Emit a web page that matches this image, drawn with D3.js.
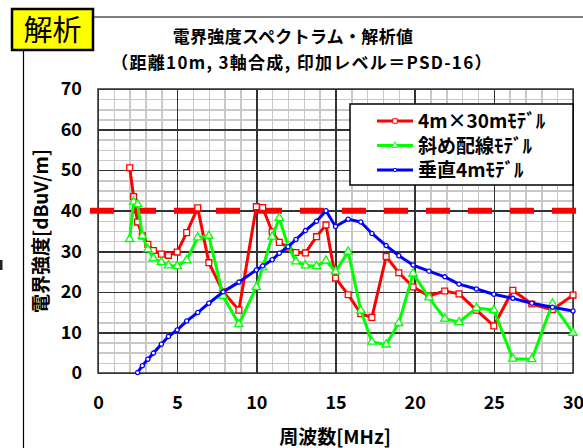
<!DOCTYPE html>
<html>
<head>
<meta charset="UTF-8">
<title>電界強度スペクトラム</title>
<script src="https://cdn.jsdelivr.net/npm/d3@7"></script>
<style>
  body { margin: 0; background: #fff; }
  text { font-family: "Noto Sans CJK JP", sans-serif; }
  .grid line { shape-rendering: crispEdges; }
  .grid path { display: none; }
  .lbl path, .lbl line { display: none; }
  .lbl text { font-size: 18px; font-weight: bold; fill: #000; }
</style>
</head>
<body>
<script>
// frequency points [MHz]
var freqs = [2.0, 2.25, 2.5, 2.8, 3.15, 3.5, 4.0, 4.45, 5.0, 5.6, 6.3, 7.0, 7.9, 8.9,
             10.0, 10.4, 11.0, 11.45, 12.0, 12.5, 13.1, 13.8, 14.4, 15.0, 15.8, 16.6,
             17.3, 18.2, 19.0, 19.9, 20.9, 21.9, 22.8, 23.9, 25.0, 26.2, 27.4, 28.7, 30.0];

var model4x30 = [50.6, 43.5, 37.2, 33.8, 31.7, 30.2, 29.3, 29.0, 29.8, 34.6, 40.7, 27.2, 20.0, 15.5,
                 41.0, 40.8, 34.8, 32.2, 31.0, 29.7, 29.6, 33.6, 36.5, 23.4, 19.3, 14.6,
                 13.7, 28.7, 24.7, 21.2, 19.0, 20.2, 19.5, 15.5, 11.6, 20.4, 17.0, 15.6, 19.2];

var modelDiag = [33.0, 42.2, 41.6, 33.8, 30.5, 28.3, 27.3, 26.5, 26.4, 27.8, 33.4, 33.8, 19.0, 12.0,
                 21.2, 26.0, 33.6, 38.2, 31.3, 27.5, 26.5, 26.3, 27.7, 25.0, 29.9, 15.4,
                 7.7, 7.0, 12.3, 24.5, 18.6, 13.4, 12.5, 16.0, 15.5, 3.5, 3.4, 17.1, 9.9];

var modelVert = [null, null, 0.1, 1.8, 3.4, 4.9, 7.1, 9.0, 10.6, 12.8, 14.9, 17.2, 20.0, 22.4,
                 25.4, 26.4, 27.9, 29.5, 31.1, 32.9, 35.1, 37.4, 40.0, 36.1, 37.9, 37.2,
                 34.4, 31.4, 28.9, 26.6, 25.1, 23.7, 21.9, 20.7, 19.4, 18.4, 17.2, 16.2, 15.3];

var limitLevel = 40;
var xTicks = [0, 5, 10, 15, 20, 25, 30];
var yTicks = [0, 10, 20, 30, 40, 50, 60, 70];
var legendNames = ["4m×30mﾓﾃﾞﾙ", "斜め配線ﾓﾃﾞﾙ", "垂直4mﾓﾃﾞﾙ"];

var W = 583, H = 448;
var svg = d3.select("body").append("svg").attr("width", W).attr("height", H);

var x = d3.scaleLinear().domain([0, 30]).range([98, 573]);
var y = d3.scaleLinear().domain([0, 70]).range([373, 89]);

// outer frame and tag
svg.append("line").attr("x1", 93).attr("y1", 17).attr("x2", W).attr("y2", 17)
    .attr("stroke", "#000").attr("stroke-width", 1.2);
svg.append("line").attr("x1", 23.5).attr("y1", 50).attr("x2", 23.5).attr("y2", H)
    .attr("stroke", "#000").attr("stroke-width", 1.2);
svg.append("rect").attr("x", 12).attr("y", 9).attr("width", 81).attr("height", 41)
    .attr("fill", "#ffff00").attr("stroke", "#000").attr("stroke-width", 2.5);
svg.append("text").attr("x", 52.5).attr("y", 41).attr("text-anchor", "middle")
    .style("font-size", "29px").text("解析");
// small dark mark at the left edge (remnant of something cropped off)
svg.append("rect").attr("x", 0).attr("y", 260).attr("width", 2.5).attr("height", 10).attr("fill", "#222");

// titles
svg.append("text").attr("x", 293).attr("y", 43).attr("text-anchor", "middle")
    .style("font-size", "17px").style("font-weight", "bold").style("letter-spacing", "0.3px")
    .text("電界強度スペクトラム・解析値");
svg.append("text").attr("x", 302).attr("y", 69).attr("text-anchor", "middle")
    .style("font-size", "17px").style("font-weight", "bold").style("letter-spacing", "1.3px")
    .text("（距離10m, 3軸合成, 印加レベル＝PSD-16）");

// grid
var plotH = y(0) - y(70), plotW = x(30) - x(0);
svg.append("g").attr("class", "grid").attr("transform", "translate(0," + y(0) + ")")
    .call(d3.axisBottom(x).tickValues(d3.range(0, 31, 1)).tickSize(-plotH).tickFormat(""))
    .selectAll("line").attr("stroke", "#c8c8c8").attr("stroke-width", 1.5);
svg.append("g").attr("class", "grid").attr("transform", "translate(" + x(0) + ",0)")
    .call(d3.axisLeft(y).tickValues(d3.range(0, 70.1, 2.5)).tickSize(-plotW).tickFormat(""))
    .selectAll("line").attr("stroke", "#c8c8c8").attr("stroke-width", 1.5);
svg.append("g").attr("class", "grid").attr("transform", "translate(0," + y(0) + ")")
    .call(d3.axisBottom(x).tickValues(xTicks).tickSize(-plotH).tickFormat(""))
    .selectAll("line").attr("stroke", "#333").attr("stroke-width", 1.5);
svg.append("g").attr("class", "grid").attr("transform", "translate(" + x(0) + ",0)")
    .call(d3.axisLeft(y).tickValues(yTicks).tickSize(-plotW).tickFormat(""))
    .selectAll("line").attr("stroke", "#333").attr("stroke-width", 1.5);
svg.append("rect").attr("x", x(0)).attr("y", y(70)).attr("width", plotW).attr("height", plotH)
    .attr("fill", "none").attr("stroke", "#333").attr("stroke-width", 1.5);

// tick labels
svg.append("g").attr("class", "lbl").attr("transform", "translate(0," + y(0) + ")")
    .call(d3.axisBottom(x).tickValues(xTicks).tickSize(0).tickPadding(23));
svg.append("g").attr("class", "lbl").attr("transform", "translate(" + x(0) + ",0)")
    .call(d3.axisLeft(y).tickValues(yTicks).tickSize(0).tickPadding(16));

// axis titles
svg.append("text").attr("x", 335).attr("y", 444).attr("text-anchor", "middle")
    .style("font-size", "19px").style("font-weight", "bold").text("周波数[MHz]");
svg.append("text").attr("transform", "translate(48,231) rotate(-90)").attr("text-anchor", "middle")
    .style("font-size", "19px").style("font-weight", "bold").text("電界強度[dBuV/m]");

// limit line
svg.append("line").attr("x1", 90).attr("x2", 577).attr("y1", y(limitLevel)).attr("y2", y(limitLevel))
    .attr("stroke", "#ff0000").attr("stroke-width", 6).attr("stroke-dasharray", "24,18");

// series
var series = [
  { vals: model4x30, color: "#ff0000", mark: "square" },
  { vals: modelDiag, color: "#00ff00", mark: "triangle" },
  { vals: modelVert, color: "#0000ff", mark: "circle" }
];
var symbols = { square: d3.symbolSquare, triangle: d3.symbolTriangle, circle: d3.symbolCircle };
var symSize = { square: 34, triangle: 30, circle: 14 };

var line = d3.line()
    .defined(function (d) { return d.v != null; })
    .x(function (d) { return x(d.f); })
    .y(function (d) { return y(d.v); });

series.forEach(function (s) {
  var pts = freqs.map(function (f, i) { return { f: f, v: s.vals[i] }; });
  svg.append("path").datum(pts).attr("d", line)
      .attr("fill", "none").attr("stroke", s.color).attr("stroke-width", 3)
      .attr("stroke-linejoin", "round");
  svg.selectAll(null).data(pts.filter(function (d) { return d.v != null; }))
      .enter().append("path")
      .attr("d", d3.symbol().type(symbols[s.mark]).size(symSize[s.mark]))
      .attr("transform", function (d) { return "translate(" + x(d.f) + "," + y(d.v) + ")"; })
      .attr("fill", "#fff").attr("stroke", s.color).attr("stroke-width", 1.3);
});

// legend
var lg = svg.append("g");
lg.append("rect").attr("x", 350).attr("y", 104).attr("width", 223).attr("height", 81)
    .attr("fill", "#fff").attr("stroke", "#000").attr("stroke-width", 1.5);
series.forEach(function (s, i) {
  var ly = 121 + i * 24.5;
  lg.append("line").attr("x1", 377).attr("x2", 413).attr("y1", ly).attr("y2", ly)
      .attr("stroke", s.color).attr("stroke-width", 3);
  lg.append("path").attr("d", d3.symbol().type(symbols[s.mark]).size(symSize[s.mark] * 0.6))
      .attr("transform", "translate(395," + ly + ")")
      .attr("fill", "#fff").attr("stroke", s.color).attr("stroke-width", 1);
  lg.append("text").attr("x", 418).attr("y", ly + 7)
      .style("font-size", "19px").style("font-weight", "bold").text(legendNames[i]);
});
</script>
</body>
</html>
